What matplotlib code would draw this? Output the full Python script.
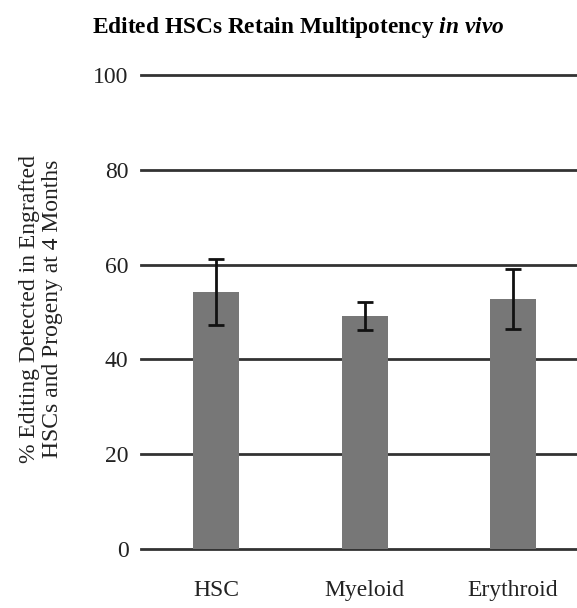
import matplotlib
matplotlib.use("Agg")
import matplotlib.pyplot as plt

categories = ["HSC", "Myeloid", "Erythroid"]
editing_pct = [54.2, 49.2, 52.7]
error_pct = [7.0, 3.0, 6.3]
y_ticks = [0, 20, 40, 60, 80, 100]

plt.rcParams['font.family'] = ['Liberation Serif', 'DejaVu Serif']
plt.rcParams['mathtext.fontset'] = 'custom'
plt.rcParams['mathtext.rm'] = 'Liberation Serif:bold'
plt.rcParams['mathtext.it'] = 'Liberation Serif:italic:bold'
plt.rcParams['mathtext.bf'] = 'Liberation Serif:bold'

fig = plt.figure(figsize=(5.77, 6.08), dpi=100)
ax = fig.add_axes([0.2444, 0.097, 0.7556, 0.7796])

x = list(range(len(categories)))
for t in y_ticks:
    ax.axhline(t, color='#333333', linewidth=2, clip_on=False, zorder=1)

ax.bar(x, editing_pct, width=0.31, color='#777777', zorder=2)
ax.errorbar(x, editing_pct, yerr=error_pct, fmt='none', ecolor='#111111',
            elinewidth=2, capsize=6, capthick=2, zorder=3)

ax.set_xlim(-0.505, 2.43)
ax.set_ylim(0, 100)
ax.set_yticks(y_ticks)
ax.set_xticks(x)
ax.set_xticklabels(categories)
ax.tick_params(axis='both', length=0, labelsize=17, labelcolor='#222222')
ax.tick_params(axis='y', pad=9)
ax.tick_params(axis='x', pad=22)
for s in ax.spines.values():
    s.set_visible(False)

ax.set_ylabel("% Editing Detected in Engrafted\nHSCs and Progeny at 4 Months",
              fontsize=17, color='#222222', linespacing=1.1)
ax.yaxis.set_label_coords(-0.179, 0.506)

fig.text(0.516, 0.955, "Edited HSCs Retain Multipotency $\\mathit{in\\ vivo}$",
         ha='center', va='center', fontsize=16.8, fontweight='bold')

fig.savefig("out.png", dpi=100)
